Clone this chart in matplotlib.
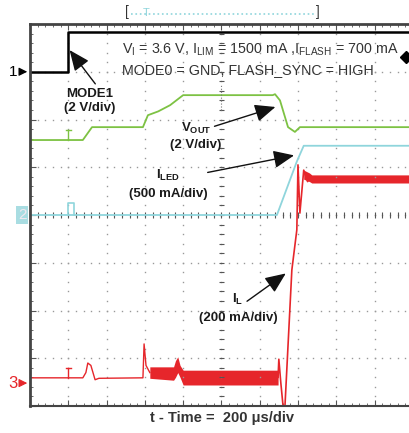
# Scope capture: MODE1, VOUT, ILED and IL at flash start.
import numpy as np
import matplotlib
matplotlib.use("Agg")
import matplotlib.pyplot as plt

plt.rcParams['font.family'] = ['Liberation Sans', 'DejaVu Sans']
plt.rcParams['mathtext.fontset'] = 'custom'
plt.rcParams['mathtext.rm'] = 'Liberation Sans'
plt.rcParams['mathtext.bf'] = 'Liberation Sans:bold'

# Data (time in divisions, amplitude in divisions from screen centre).
t_mode1 = [0, 1.0, 1.0, 9.9]
v_mode1 = [3.0, 3.0, 3.83, 3.83]

t_vout = [0, 1.38, 1.62, 2.95, 3.08, 3.35, 3.66, 4.0, 6.34, 6.40, 6.53, 6.74, 6.92, 7.05, 9.9]
v_vout = [1.57, 1.57, 1.84, 1.84, 2.09, 2.17, 2.30, 2.51, 2.51, 2.53, 2.40, 1.84, 1.74, 1.84, 1.84]

t_led = [0, 6.45, 6.97, 7.15, 9.9]
v_led = [0, 0, 1.12, 1.45, 1.45]

t_il = [0, 1.38, 1.46, 1.51, 1.59, 1.70, 1.80, 2.95, 2.98, 3.03, 3.13]
v_il = [-3.41, -3.41, -3.30, -3.10, -3.15, -3.45, -3.42, -3.41, -2.70, -3.15, -3.30]
t_il2 = [6.48, 6.50, 6.55, 6.61, 6.66, 6.84, 6.97, 7.0, 7.05, 7.15, 7.25, 7.36]
v_il2 = [-3.40, -3.02, -3.50, -4.0, -4.0, -1.15, -0.31, 1.05, 0.04, 0.94, 0.70, 0.80]

band_t = [3.13, 3.75, 3.80, 3.86, 3.92, 4.0, 6.48]
band_hi = [-3.18, -3.18, -3.05, -2.97, -3.15, -3.25, -3.25]
band_lo = [-3.42, -3.46, -3.40, -3.30, -3.40, -3.56, -3.56]
band2_t = [7.15, 7.30, 7.36, 9.9]
band2_hi = [0.94, 0.88, 0.84, 0.84]
band2_lo = [0.75, 0.70, 0.67, 0.67]

red = '#e6262b'
green = '#7dc243'
cyan = '#8fd5dc'
grey = '#999999'

fig = plt.figure(figsize=(4.09, 4.33), dpi=100)
ax = fig.add_axes([30/409, 27/433, 379/409, 382/433])
ax.set_xlim(0, 9.9)
ax.set_ylim(-4, 4)

# graticule
for gx in range(1, 10):
    yy = np.arange(-4, 4.01, 0.2)
    ax.plot([gx]*len(yy), yy, ls='none', marker='s', ms=1.0, color=grey, mew=0)
for gy in range(-3, 4):
    xx = np.arange(0, 9.91, 0.2)
    ax.plot(xx, [gy]*len(xx), ls='none', marker='s', ms=1.0, color=grey, mew=0)
xx = np.arange(0, 9.91, 0.2)
ax.vlines(xx, -0.06, 0.06, color='#555555', lw=0.8)
yy = np.arange(-4, 4.01, 0.2)
ax.hlines(yy, 4.94, 5.06, color='#555555', lw=0.8)

for s in ['left', 'top']:
    ax.spines[s].set_linewidth(2)
    ax.spines[s].set_color('#444444')
ax.spines['bottom'].set_linewidth(1.5)
ax.spines['bottom'].set_color('#444444')
ax.spines['right'].set_visible(False)
ax.set_xticks(range(0, 10))
ax.set_xticks(np.arange(0, 9.9, 0.2), minor=True)
ax.set_yticks(range(-4, 5))
ax.set_yticks(np.arange(-4, 4.01, 0.2), minor=True)
ax.tick_params(which='both', direction='in', top=True, left=True, bottom=True,
               labelbottom=False, labelleft=False, color='#555555')
ax.tick_params(which='major', length=4)
ax.tick_params(which='minor', length=2)

# traces
ax.plot(t_mode1, v_mode1, color='black', lw=1.8)
ax.plot(t_vout, v_vout, color=green, lw=1.3)
ax.plot(t_led, v_led, color=cyan, lw=1.3)
ax.plot(t_il, v_il, color=red, lw=1.0)
ax.fill_between(band_t, band_lo, band_hi, color=red, lw=0)
ax.plot(t_il2, v_il2, color=red, lw=1.2)
ax.fill_between(band2_t, band2_lo, band2_hi, color=red, lw=0)

# trigger / level markers
ax.plot([1.0, 1.0, 1.15, 1.15], [0, 0.25, 0.25, 0], color=cyan, lw=1.2)
ax.plot([1.0, 1.0], [1.57, 1.78], color=green, lw=1)
ax.plot([0.93, 1.07], [1.78, 1.78], color=green, lw=1)
ax.plot([1.0, 1.0], [-3.41, -3.20], color=red, lw=1)
ax.plot([0.93, 1.07], [-3.20, -3.20], color=red, lw=1)
ax.plot([5.0, 5.0], [2.19, 2.75], color='#777777', lw=0.8, ls=':')
ax.plot([9.83], [3.31], marker='D', ms=6, color='black', clip_on=False)

# channel labels on left
small = dict(arrowstyle='-|>,head_length=0.5,head_width=0.25', lw=0.8, mutation_scale=10)
ax.text(-0.32, 3.0, '1', ha='right', va='center', fontsize=11, color='black')
ax.annotate('', xy=(0, 3.0), xytext=(-0.32, 3.0), arrowprops=dict(color='black', **small),
            annotation_clip=False)
ax.text(-0.2, 0, '2', ha='center', va='center', fontsize=11, color='#f0e8f0',
        bbox=dict(boxstyle='square,pad=0.12', fc='#a9dde2', ec='none'))
ax.text(-0.32, -3.52, '3', ha='right', va='center', fontsize=12, color=red)
ax.annotate('', xy=(0, -3.52), xytext=(-0.32, -3.52), arrowprops=dict(color=red, **small),
            annotation_clip=False)

# settings text
ax.text(2.40, 3.46, r'V$_\mathrm{I}$ = 3.6 V, I$_\mathrm{LIM}$ = 1500 mA ,I$_\mathrm{FLASH}$ = 700 mA',
        fontsize=10.3, color='#333333', va='center')
ax.text(2.40, 3.04, 'MODE0 = GND, FLASH_SYNC = HIGH', fontsize=10.3, color='#333333', va='center')

# trace labels
arrow = dict(arrowstyle='-|>,head_length=0.7,head_width=0.3', color='#111111', lw=1.0,
             mutation_scale=18)
lab = dict(ha='center', va='center', fontsize=9.5, fontweight='bold', color='#1a1a1a')
ax.text(1.57, 2.39, 'MODE1\n(2 V/div)', linespacing=1.3, **lab)
ax.annotate('', xy=(0.99, 3.5), xytext=(1.75, 2.70), arrowprops=arrow)
ax.text(4.33, 1.65, 'V$_\\mathbf{OUT}$\n(2 V/div)', linespacing=1.3, **lab)
ax.annotate('', xy=(6.48, 2.28), xytext=(4.75, 1.84), arrowprops=arrow)
ax.text(3.6, 0.65, 'I$_\\mathbf{LED}$\n(500 mA/div)', linespacing=1.5, **lab)
ax.annotate('', xy=(6.97, 1.26), xytext=(4.57, 0.88), arrowprops=arrow)
ax.text(5.43, -1.95, 'I$_\\mathbf{L}$\n(200 mA/div)', linespacing=1.5, **lab)
ax.annotate('', xy=(6.74, -1.19), xytext=(5.61, -1.84), arrowprops=arrow)

# time base
fig.text(222/409, 1 - 418/433, 't - Time =  200 \u03bcs/div', ha='center', va='center',
         fontsize=10.5, fontweight='bold', color='#333333')

# record bracket on top
fig.text(127/409, 1 - 12/433, '[', ha='center', va='center', fontsize=10, color='#333333')
fig.text(318/409, 1 - 12/433, ']', ha='center', va='center', fontsize=10, color='#333333')
fig.add_artist(plt.Line2D([131/409, 315/409], [1 - 14/433, 1 - 14/433], color=cyan, lw=1.2, ls=':'))
fig.text(146/409, 1 - 13/433, 'T', ha='center', va='center', fontsize=8, color=cyan)

fig.savefig('out.png', dpi=100)
